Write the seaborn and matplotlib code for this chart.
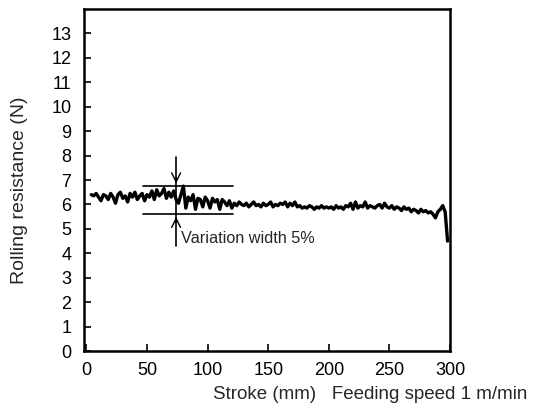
import matplotlib
matplotlib.use("Agg")
import matplotlib.pyplot as plt
import seaborn as sns
import pandas as pd

stroke = list(range(4, 300, 2))
resistance = [
    6.40, 6.35, 6.45, 6.30, 6.15, 6.40, 6.35, 6.20, 6.45, 6.30, 6.05, 6.40,
    6.50, 6.25, 6.35, 6.10, 6.45, 6.30, 6.50, 6.20, 6.35, 6.45, 6.15, 6.40,
    6.30, 6.55, 6.20, 6.60, 6.35, 6.45, 6.65, 6.25, 6.50, 6.30, 6.55, 6.20,
    6.05, 6.40, 6.75, 5.85, 6.30, 6.15, 6.40, 5.80, 6.25, 6.20, 5.90, 6.30,
    6.15, 5.85, 6.25, 6.10, 6.20, 5.80, 6.20, 6.10, 5.95, 6.15, 5.85,
    6.05, 5.95, 6.10, 6.00, 5.95, 6.05, 5.90, 6.00, 6.10, 5.95, 6.00, 5.90,
    6.05, 5.95, 6.00, 6.10, 5.90, 6.00, 5.95, 6.05,
    6.00, 6.10, 5.90, 6.05, 5.95, 6.10, 5.90, 5.95, 5.85, 5.90, 5.85, 5.95,
    5.90, 5.80, 5.90, 5.85, 5.95, 5.85, 5.90, 5.85,
    5.90, 5.80, 5.95, 5.85, 5.90, 5.80, 5.95, 5.90, 6.05, 5.80, 6.10, 5.85,
    5.95, 5.90, 6.10, 5.85, 5.95, 5.90, 5.85, 5.95,
    6.00, 5.85, 6.05, 5.90, 5.85, 5.95, 5.80, 5.90, 5.85, 5.75, 5.90, 5.80,
    5.85, 5.70, 5.80, 5.75, 5.65, 5.80, 5.70, 5.75,
    5.65, 5.70, 5.60, 5.45, 5.70, 5.80, 5.95, 5.70, 4.50,
]
yticks = list(range(0, 14))
xticks = [0, 50, 100, 150, 200, 250, 300]

# variation width annotation
var_x = 74
var_hi = 6.75
var_lo = 5.6
var_x0, var_x1 = 47, 121
var_vtop, var_vbot = 7.95, 4.3

df = pd.DataFrame({"stroke": stroke, "resistance": resistance})

sns.set_style("white")
plt.rcParams["font.family"] = ["Liberation Sans", "DejaVu Sans"]

fig = plt.figure(figsize=(5.36, 4.11), dpi=100)
ax = fig.add_axes([84 / 536, 1 - 351 / 411, (450 - 84) / 536, (351 - 9) / 411])

sns.lineplot(data=df, x="stroke", y="resistance", ax=ax, color="black",
             linewidth=2.4, estimator=None)

ax.set_xlim(-2, 300)
ax.set_ylim(0, 14)
ax.set_xticks(xticks)
ax.set_yticks(yticks)
ax.tick_params(direction="in", length=5, width=1.2, labelsize=13, colors="black",
               top=False, right=False, left=True, bottom=True)
ax.tick_params(axis="x", pad=8)
ax.tick_params(axis="y", pad=9)
for s in ax.spines.values():
    s.set_visible(True)
    s.set_color("black")
    s.set_linewidth(1.8)

ax.set_xlabel("")
ax.set_ylabel("Rolling resistance (N)", fontsize=14)
ax.yaxis.set_label_coords(-(84 - 28) / 366, 0.47)

# annotation lines
ax.plot([var_x0, var_x1], [var_hi, var_hi], color="black", lw=1.2)
ax.plot([var_x0, var_x1], [var_lo, var_lo], color="black", lw=1.2)
ax.plot([var_x, var_x], [var_vtop, var_vbot], color="black", lw=1.2)
ax.annotate("", xy=(var_x, var_hi), xytext=(var_x, var_hi + 0.45),
            arrowprops=dict(arrowstyle="->", color="black", lw=1.0,
                            mutation_scale=16))
ax.annotate("", xy=(var_x, var_lo), xytext=(var_x, var_lo - 0.45),
            arrowprops=dict(arrowstyle="->", color="black", lw=1.0,
                            mutation_scale=16))
ax.text(var_x + 4, 4.6, "Variation width 5%", fontsize=11.7, ha="left", va="center")

fig.text(213 / 536, 1 - 394 / 411, "Stroke (mm)   Feeding speed 1 m/min",
         fontsize=13.5, ha="left", va="center")

fig.savefig("out.png", dpi=100)
